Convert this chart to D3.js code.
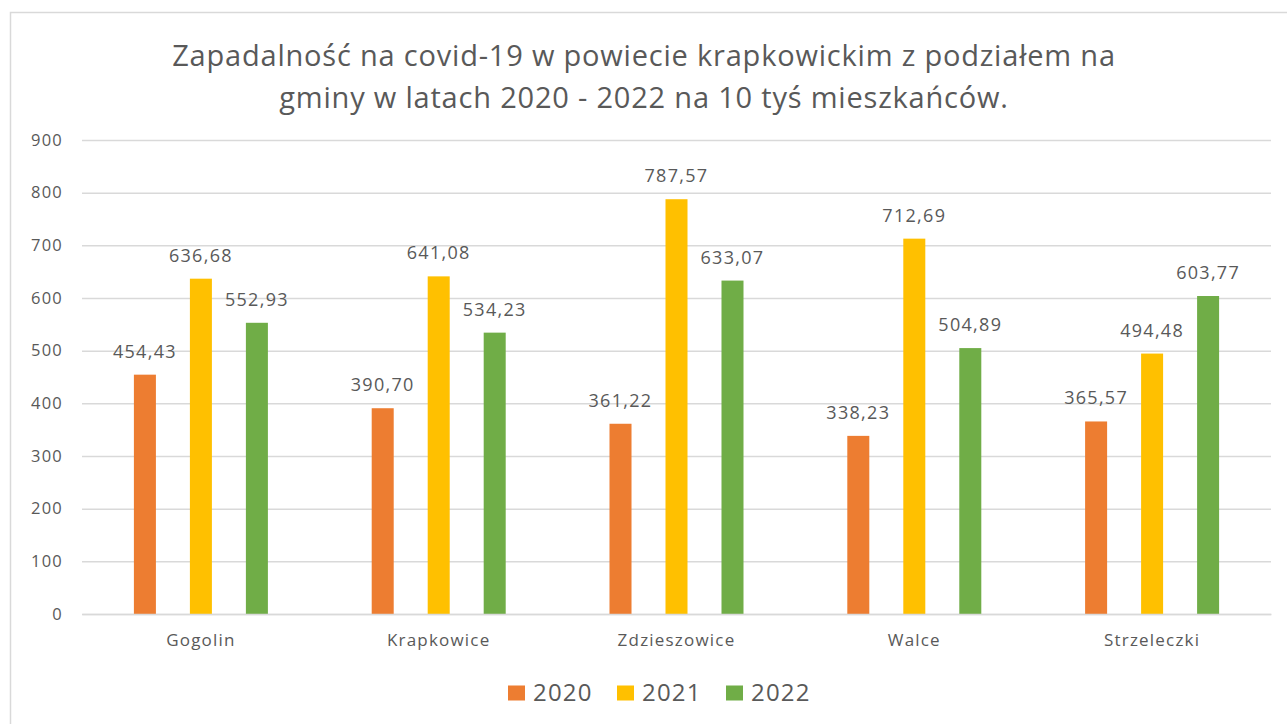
<!DOCTYPE html>
<html lang="pl">
<head>
<meta charset="UTF-8">
<title>Zapadalność na covid-19</title>
<script src="https://d3js.org/d3.v7.min.js"></script>
<style>
  body { margin: 0; background: #fff; }
  svg text { font-family: "Open Sans", "Noto Sans", sans-serif; fill: #595959; }
</style>
</head>
<body>
<svg id="chart" width="1287" height="724"></svg>
<script>
// data
const gminy = ['Gogolin', 'Krapkowice', 'Zdzieszowice', 'Walce', 'Strzeleczki'];
const years = ['2020', '2021', '2022'];
const v2020 = [454.43, 390.70, 361.22, 338.23, 365.57];
const v2021 = [636.68, 641.08, 787.57, 712.69, 494.48];
const v2022 = [552.93, 534.23, 633.07, 504.89, 603.77];
const yTicks = [0, 100, 200, 300, 400, 500, 600, 700, 800, 900];
const colors = ['#ed7d31', '#ffc000', '#70ad47'];

const series = [v2020, v2021, v2022];

const svg = d3.select('#chart');

// outer frame
svg.append('rect')
    .attr('x', 10.5).attr('y', 12.5)
    .attr('width', 1290).attr('height', 720)
    .attr('fill', 'none').attr('stroke', '#d9d9d9').attr('stroke-width', 1.5);

// title
const title = svg.append('text')
    .attr('x', 644).attr('y', 66)
    .attr('text-anchor', 'middle')
    .style('font-size', '29px')
    .style('letter-spacing', '0.8px');
title.append('tspan').attr('x', 644).attr('dy', 0)
    .text('Zapadalność na covid-19 w powiecie krapkowickim z podziałem na');
title.append('tspan').attr('x', 644).attr('dy', 42)
    .text('gminy w latach 2020 - 2022 na 10 tyś mieszkańców.');

const x = d3.scaleBand().domain(gminy).range([82, 1271]);
const y = d3.scaleLinear().domain([0, 900]).range([614, 140]);
const xs = d3.scaleBand().domain(years).range([-67, 67]).paddingInner(0.607);

// gridlines + y axis
svg.append('g')
    .attr('transform', 'translate(82,0)')
    .call(d3.axisLeft(y).tickValues(yTicks).tickSize(-(1271 - 82)).tickFormat(d3.format('d')))
    .call(g => g.select('.domain').remove())
    .call(g => g.selectAll('.tick line').attr('stroke', '#d9d9d9').attr('stroke-width', 1.5))
    .call(g => g.selectAll('.tick text').attr('x', -19)
        .style('font-size', '16.5px').style('letter-spacing', '1.2px').attr('fill', '#595959'));

// bars
series.forEach((vals, si) => {
    svg.append('g').selectAll('rect')
        .data(vals)
        .join('rect')
        .attr('x', (d, i) => x(gminy[i]) + x.bandwidth() / 2 + xs(years[si]))
        .attr('y', d => y(d))
        .attr('width', xs.bandwidth())
        .attr('height', d => y(0) - y(d))
        .attr('fill', colors[si]);

    svg.append('g').selectAll('text')
        .data(vals)
        .join('text')
        .attr('x', (d, i) => x(gminy[i]) + x.bandwidth() / 2 + xs(years[si]) + xs.bandwidth() / 2)
        .attr('y', d => y(d) - 17)
        .attr('text-anchor', 'middle')
        .style('font-size', '18px')
        .style('letter-spacing', '1.3px')
        .text(d => d3.format('.2f')(d).replace('.', ','));
});

// x axis
svg.append('g')
    .attr('transform', 'translate(0,614)')
    .call(d3.axisBottom(x).tickSize(0).tickPadding(20))
    .call(g => g.select('.domain').attr('stroke', '#d9d9d9').attr('stroke-width', 1.5))
    .call(g => g.selectAll('.tick text').style('font-size', '17px')
        .style('letter-spacing', '1.2px').attr('fill', '#595959'));

// legend
const legend = svg.append('g').attr('transform', 'translate(508,693)');
let lx = 0;
years.forEach((yr, i) => {
    const item = legend.append('g').attr('transform', `translate(${lx},0)`);
    item.append('rect').attr('x', 0).attr('y', -7.5).attr('width', 17).attr('height', 15).attr('fill', colors[i]);
    item.append('text').attr('x', 25).attr('y', 0).attr('dy', '0.35em')
        .style('font-size', '24px').style('letter-spacing', '1.2px').text(yr);
    lx += 109;
});
</script>
</body>
</html>
